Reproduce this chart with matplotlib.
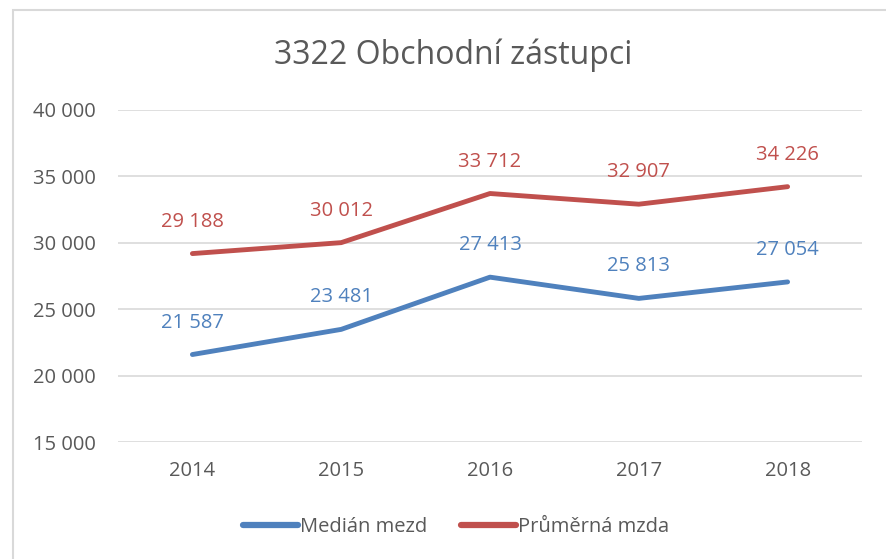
import matplotlib.pyplot as plt
from matplotlib.patches import Rectangle

plt.rcParams['font.family'] = ['Open Sans', 'DejaVu Sans']

years = ["2014", "2015", "2016", "2017", "2018"]
median = [21587, 23481, 27413, 25813, 27054]
average = [29188, 30012, 33712, 32907, 34226]

blue = "#4F81BD"
red = "#C0504D"
grey = "#595959"


def fmt(v):
    return f"{v:,}".replace(",", " ")


fig = plt.figure(figsize=(8.86, 5.59), dpi=100)
# light frame: only top and left edges are visible in the crop
fig.patches.append(Rectangle((13 / 886, -0.1), 1.0, 1 - 10 / 559 + 0.1,
                             transform=fig.transFigure, fill=False,
                             edgecolor="#D9D9D9", linewidth=1.5))
ax = fig.add_axes([118 / 886, 1 - 442 / 559, 744 / 886, 332 / 559])

x = range(len(years))
ax.plot(x, median, color=blue, linewidth=3.5, solid_capstyle="round", label="Medián mezd")
ax.plot(x, average, color=red, linewidth=3.5, solid_capstyle="round", label="Průměrná mzda")

for i in x:
    ax.annotate(fmt(median[i]), (i, median[i]), xytext=(0, 23),
                textcoords="offset points", ha="center", va="center",
                color=blue, fontsize=14.5)
    ax.annotate(fmt(average[i]), (i, average[i]), xytext=(0, 23),
                textcoords="offset points", ha="center", va="center",
                color=red, fontsize=14.5)

ax.set_xlim(-0.5, 4.5)
ax.set_ylim(15000, 40000)
ax.set_yticks(range(15000, 40001, 5000))
ax.set_yticklabels([fmt(v) for v in range(15000, 40001, 5000)])
ax.set_xticks(list(x))
ax.set_xticklabels(years)
ax.tick_params(axis="both", length=0, colors=grey, labelsize=14.5)
ax.tick_params(axis="y", pad=16)
ax.tick_params(axis="x", pad=14)
ax.grid(axis="y", color="#D9D9D9", linewidth=1.2)
ax.set_axisbelow(True)
for s in ax.spines.values():
    s.set_visible(False)

fig.text(453 / 886, 1 - 55 / 559, "3322 Obchodní zástupci", ha="center", va="center",
         fontsize=23, color=grey)

leg = fig.legend(loc="center", bbox_to_anchor=(456 / 886, 1 - 527 / 559), ncol=2,
                 frameon=False, fontsize=14.5, handlelength=2.7, handletextpad=0.1,
                 columnspacing=1.7)
for t in leg.get_texts():
    t.set_color(grey)
for h in leg.get_lines():
    h.set_linewidth(4.5)

fig.savefig("out.png", dpi=100)
